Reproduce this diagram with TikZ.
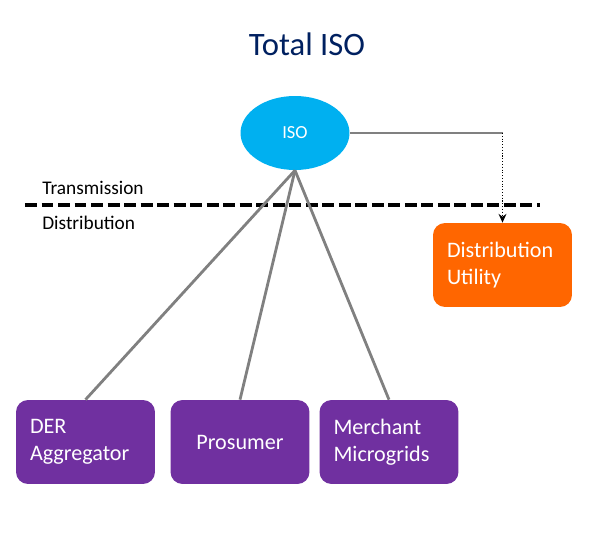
\documentclass[tikz,border=0pt]{standalone}
\usepackage{fontspec}
\setmainfont{Carlito}
\usetikzlibrary{shapes.geometric,arrows,arrows.meta}
\definecolor{isoblue}{HTML}{00B0F0}
\definecolor{duorange}{HTML}{FF6600}
\definecolor{derpurple}{HTML}{7030A0}
\definecolor{titlenavy}{HTML}{002060}
\definecolor{linkgray}{HTML}{808080}
\tikzset{
  entity/.style={rectangle, rounded corners=0.24cm, fill=derpurple, text=white,
    minimum width=2.78cm, minimum height=1.68cm, inner xsep=0.28cm,
    text width=2.22cm, align=left, font=\fontsize{12.6}{15.5}\selectfont},
  link/.style={linkgray, line width=1.6pt},
}
\begin{document}
\begin{tikzpicture}[x=0.02cm,y=-0.02cm,
            >=stealth,
        ]
        \useasboundingbox (0,0) rectangle (593,533);
        \node[text=titlenavy,font=\fontsize{18.6}{22}\selectfont] (title) at (307,44) {Total ISO};
        \node[ellipse,fill=isoblue,text=white,minimum width=2.18cm,minimum height=1.48cm,
            inner sep=0pt,font=\fontsize{10.5}{12}\selectfont] (iso) at (295,133) {ISO};
        % voltage boundary
        \coordinate (tdleft) at (25,205);
        \coordinate (tdright) at (540,205);
        \draw[black,line width=2pt,dash pattern=on 6.8pt off 2.6pt] (tdleft) -- (tdright);
        \node[anchor=west,inner sep=0pt,font=\fontsize{11}{13}\selectfont] (trans) at (42,188) {Transmission};
        \node[anchor=west,inner sep=0pt,font=\fontsize{11}{13}\selectfont] (dist) at (42,223) {Distribution};
        % market participants
        \node[entity,fill=duorange] (du) at (502.5,265) {Distribution\\Utility};
        \node[entity] (der) at (85.5,442) {DER\\Aggregator};
        \node[entity,align=center] (pros) at (240,442) {Prosumer};
        \node[entity] (merch) at (389,442) {Merchant\\Microgrids};
        \draw[link] (iso.south) -- (der.north);
        \draw[link] (iso.south) -- (pros.north);
        \draw[link] (iso.south) -- (merch.north);
        \coordinate (bend) at (du.north |- iso.east);
        \draw[linkgray,line width=0.6pt] (iso.east) -- (bend);
        \draw[-{Stealth[length=5pt,width=4.5pt]},black,densely dotted,line width=0.6pt] (bend) -- (du.north);
       % \draw[dashed] (iso.east) -| (du.north);
    \end{tikzpicture}
\end{document}
